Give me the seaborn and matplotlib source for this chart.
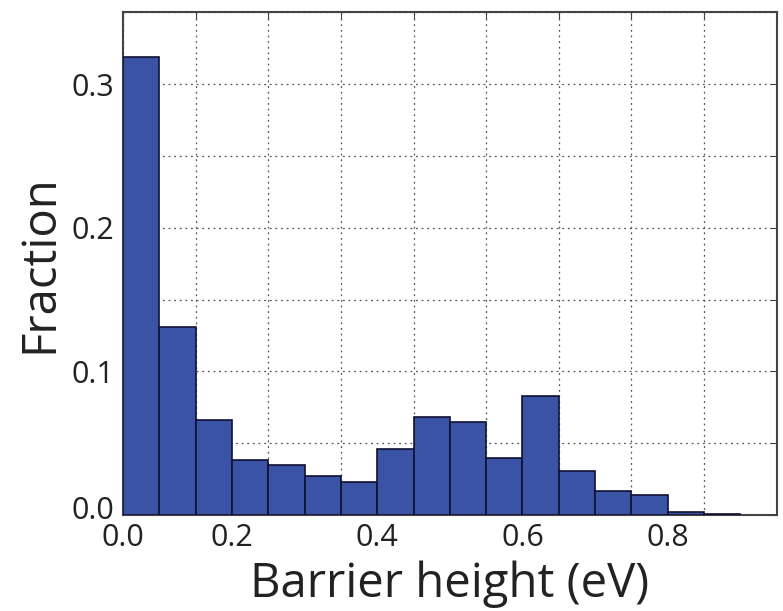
import numpy as np
import pandas as pd
import matplotlib
matplotlib.use("Agg")
import matplotlib.pyplot as plt
import seaborn as sns

# Data
bin_left = [0.00, 0.05, 0.10, 0.15, 0.20, 0.25, 0.30, 0.35, 0.40,
            0.45, 0.50, 0.55, 0.60, 0.65, 0.70, 0.75, 0.80]
fraction = [0.319, 0.131, 0.066, 0.038, 0.035, 0.027, 0.023, 0.046, 0.068,
            0.065, 0.040, 0.083, 0.031, 0.017, 0.014, 0.002, 0.001]
bin_width = 0.05
x_tick_labels = ["0.0", "0.2", "0.4", "0.6", "0.8"]
x_label_pos = [0.0, 0.15, 0.35, 0.55, 0.75]
y_tick_labels = ["0.0", "0.1", "0.2", "0.3"]
y_label_pos = [0.005, 0.1, 0.2, 0.3]

sns.set_style("white")
plt.rcParams['font.family'] = ['Open Sans', 'DejaVu Sans']

df = pd.DataFrame({"x": np.array(bin_left) + bin_width / 2, "w": fraction})
edges = list(bin_left) + [bin_left[-1] + bin_width]

fig = plt.figure(figsize=(7.83, 6.11), dpi=100)
ax = fig.add_axes([0.157, 0.157, 0.835, 0.823])

sns.histplot(data=df, x="x", weights="w", bins=edges, ax=ax,
             color="#3a53a4", alpha=1.0, edgecolor="#111133", linewidth=1.2,
             zorder=3)

ax.set_xlim(0, 0.9)
ax.set_ylim(0, 0.35)

ax.xaxis.remove_overlapping_locs = False
ax.yaxis.remove_overlapping_locs = False

# grid via major ticks
ax.set_xticks(np.arange(0, 0.91, 0.1))
ax.set_yticks(np.arange(0, 0.351, 0.05))
ax.grid(True, linestyle=(0, (1.5, 3)), color="#555555", linewidth=0.9, zorder=0)
ax.tick_params(axis="both", which="major", direction="in", length=5,
               color="#444444", labelbottom=False, labelleft=False,
               right=True, top=True)

# labels via minor ticks
ax.set_xticks(x_label_pos, minor=True)
ax.set_xticklabels(x_tick_labels, minor=True)
ax.set_yticks(y_label_pos, minor=True)
ax.set_yticklabels(y_tick_labels, minor=True)
ax.tick_params(axis="both", which="minor", length=0, labelsize=22,
               colors="#222222", pad=6)

ax.set_xlabel("Barrier height (eV)", fontsize=34, color="#222222", labelpad=5)
ax.set_ylabel("Fraction", fontsize=34, color="#222222", labelpad=6)

for s in ax.spines.values():
    s.set_color("#444444")
    s.set_linewidth(1.5)

fig.savefig("out.png", dpi=100)
